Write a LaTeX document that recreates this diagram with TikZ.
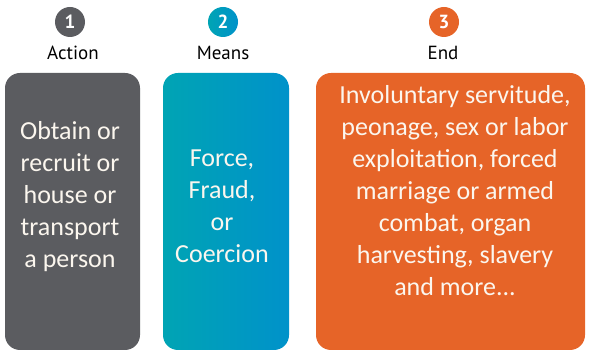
\documentclass[tikz,border=0pt]{standalone}
\usepackage{fontspec}
\setmainfont{Carlito}
\newfontfamily\headfont{PT Sans}

\definecolor{actgray}{HTML}{5B5C60}
\definecolor{meanleft}{HTML}{00A4B4}
\definecolor{meanright}{HTML}{0092CA}
\definecolor{endorange}{HTML}{E66428}
\definecolor{boxtext}{HTML}{FBF6EE}

\begin{document}
\begin{tikzpicture}[x=1pt,y=-1pt,
  num/.style={circle,minimum size=30pt,inner sep=0pt,text=white,font=\headfont\bfseries\fontsize{19}{19}\selectfont},
  head/.style={font=\headfont\fontsize{19}{19}\selectfont,text=black},
  box/.style={rounded corners=15pt,minimum height=277pt,inner sep=0pt},
  body/.style={align=center,text=boxtext,font=\fontsize{26}{32}\selectfont}]
\useasboundingbox (0,0) rectangle (592,352);
\node[num,fill=actgray] (N1) at (70,22) {1};
\node[num,left color=meanleft,right color=meanright] (N2) at (223,22) {2};
\node[num,fill=endorange] (N3) at (444,22) {3};
\node[head] (H1) at (73,53) {Action};
\node[head] (H2) at (223,53) {Means};
\node[head] (H3) at (443,53) {End};
\node[box,fill=actgray,minimum width=135pt] (B1) at (72.5,211.5) {};
\node[box,left color=meanleft,right color=meanright,minimum width=126pt] (B2) at (226,211.5) {};
\node[box,fill=endorange,minimum width=269pt] (B3) at (450.5,211.5) {};
\node[body] (T1) at (70,197) {Obtain or\\recruit or\\house or\\transport\\a person};
\node[body] (T2) at (222,206) {Force,\\Fraud,\\or\\Coercion};
\node[body] (T3) at (455,191) {Involuntary servitude,\\peonage, sex or labor\\exploitation, forced\\marriage or armed\\combat, organ\\harvesting, slavery\\and more...};
\end{tikzpicture}
\end{document}
